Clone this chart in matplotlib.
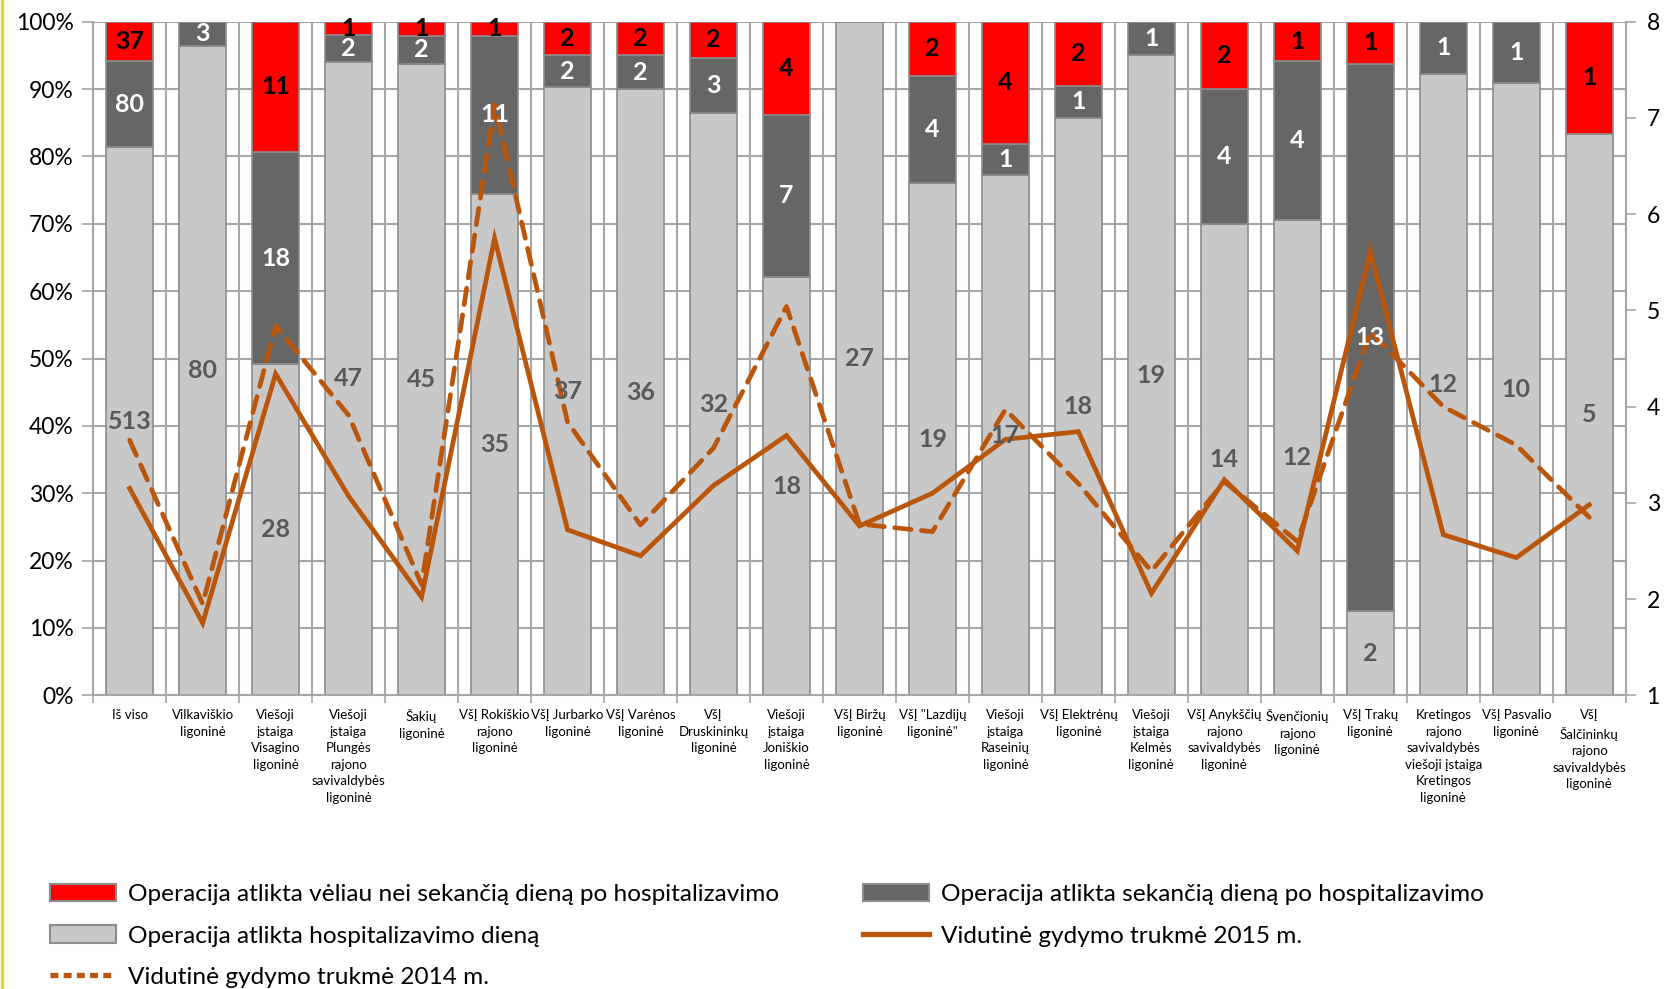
import numpy as np
import matplotlib as mpl
mpl.use('Agg')
import matplotlib.pyplot as plt
from matplotlib.patches import Patch
from matplotlib.lines import Line2D
from matplotlib import font_manager as fm

# categories (hospitals)
categories = [
    'Iš viso',
    'Vilkaviškio\nligoninė',
    'Viešoji\nįstaiga\nVisagino\nligoninė',
    'Viešoji\nįstaiga\nPlungės\nrajono\nsavivaldybės\nligoninė',
    'Šakių\nligoninė',
    'VšĮ Rokiškio\nrajono\nligoninė',
    'VšĮ Jurbarko\nligoninė',
    'VšĮ Varėnos\nligoninė',
    'VšĮ\nDruskininkų\nligoninė',
    'Viešoji\nįstaiga\nJoniškio\nligoninė',
    'VšĮ Biržų\nligoninė',
    'VšĮ "Lazdijų\nligoninė"',
    'Viešoji\nįstaiga\nRaseinių\nligoninė',
    'VšĮ Elektrėnų\nligoninė',
    'Viešoji\nįstaiga\nKelmės\nligoninė',
    'VšĮ Anykščių\nrajono\nsavivaldybės\nligoninė',
    'Švenčionių\nrajono\nligoninė',
    'VšĮ Trakų\nligoninė',
    'Kretingos\nrajono\nsavivaldybės\nviešoji įstaiga\nKretingos\nligoninė',
    'VšĮ Pasvalio\nligoninė',
    'VšĮ\nŠalčininkų\nrajono\nsavivaldybės\nligoninė',
]

# number of operations
same_day = [513, 80, 28, 47, 45, 35, 37, 36, 32, 18, 27, 19, 17, 18, 19, 14, 12, 2, 12, 10, 5]
next_day = [80, 3, 18, 2, 2, 11, 2, 2, 3, 7, 0, 4, 1, 1, 1, 4, 4, 13, 1, 1, 0]
later = [37, 0, 11, 1, 1, 1, 2, 2, 2, 4, 0, 2, 4, 2, 0, 2, 1, 1, 0, 0, 1]

# average treatment duration (days)
dur_2015 = [3.15, 1.75, 4.34, 3.07, 2.02, 5.75, 2.72, 2.45, 3.18, 3.70, 2.76,
            3.10, 3.66, 3.74, 2.06, 3.24, 2.50, 5.61, 2.67, 2.43, 2.98]
dur_2014 = [3.65, 1.95, 4.84, 3.91, 2.15, 7.14, 3.84, 2.77, 3.57, 5.04, 2.78,
            2.70, 3.97, 3.20, 2.29, 3.22, 2.60, 4.78, 4.00, 3.60, 2.85]

legend_labels = [
    'Operacija atlikta vėliau nei sekančią dieną po hospitalizavimo',
    'Operacija atlikta sekančią dieną po hospitalizavimo',
    'Operacija atlikta hospitalizavimo dieną',
    'Vidutinė gydymo trukmė 2015 m.',
    'Vidutinė gydymo trukmė 2014 m.',
]

installed = set(f.name for f in fm.fontManager.ttflist)
main_font = 'Lato' if 'Lato' in installed else 'DejaVu Sans'
narrow_font = 'Liberation Sans Narrow' if 'Liberation Sans Narrow' in installed else main_font
plt.rcParams['font.family'] = [main_font, 'DejaVu Sans']

LIGHT = '#C8C8C8'
DARK = '#666666'
RED = '#FF0000'
EDGE = '#8C8C8C'
GRID = '#A6A6A6'
LINE = '#B9560B'

s = np.array(same_day, dtype=float)
n = np.array(next_day, dtype=float)
l = np.array(later, dtype=float)
tot = s + n + l
ps, pn, pl = s / tot * 100, n / tot * 100, l / tot * 100

x = np.arange(len(categories))

fig = plt.figure(figsize=(16.64, 9.89), dpi=100)
ax = fig.add_axes([0.056, 0.297, 0.921, 0.681])

w = 0.64
ax.bar(x, ps, w, color=LIGHT, edgecolor=EDGE, linewidth=1.2, zorder=2)
ax.bar(x, pn, w, bottom=ps, color=DARK, edgecolor=EDGE, linewidth=1.2, zorder=2)
ax.bar(x, pl, w, bottom=ps + pn, color=RED, edgecolor=EDGE, linewidth=1.2, zorder=2)

ax.set_xlim(-0.5, len(categories) - 0.5)
ax.set_ylim(0, 100)
ax.set_yticks(np.arange(0, 101, 10))
ax.set_yticklabels([f'{v}%' for v in range(0, 101, 10)], fontsize=16.5)
ax.set_xticks(np.arange(-0.5, len(categories), 1))
ax.set_xticklabels([])
ax.set_xticks(x, minor=True)
ax.set_xticklabels(categories, minor=True, fontsize=9.5, family=[narrow_font, 'DejaVu Sans'],
                   linespacing=1.45, va='top')
ax.tick_params(axis='x', which='minor', length=0, pad=10)
ax.tick_params(axis='x', which='major', length=6, color=GRID, width=1.2)
ax.tick_params(axis='y', length=8, color=GRID, width=1.2, pad=6)
ax.grid(True, which='major', color=GRID, linewidth=1.5, zorder=0)
ax.set_axisbelow(True)
for sp in ['top', 'right']:
    ax.spines[sp].set_visible(False)
ax.spines['left'].set_color(GRID)
ax.spines['bottom'].set_color(GRID)
ax.spines['left'].set_linewidth(1.5)
ax.spines['bottom'].set_linewidth(1.5)

ax2 = ax.twinx()
ax2.plot(x, dur_2015, color=LINE, linewidth=3.4, solid_joinstyle='miter', zorder=5)
ax2.plot(x, dur_2014, color=LINE, linewidth=3.4, linestyle=(0, (3.5, 2.2)),
         dash_capstyle='round', zorder=5)
ax2.set_ylim(1, 8)
ax2.set_yticks(range(1, 9))
ax2.tick_params(axis='y', length=7, color=GRID, width=1.2, pad=8, labelsize=16.5)
for sp in ['top', 'left', 'bottom']:
    ax2.spines[sp].set_visible(False)
ax2.spines['right'].set_color(GRID)
ax2.spines['right'].set_linewidth(1.5)
ax.set_zorder(1)
ax2.set_zorder(2)
ax2.patch.set_visible(False)

# data labels, drawn on top of the lines
lab = dict(ha='center', va='center', fontsize=18, fontweight='bold',
           transform=ax.transData, zorder=10)
for i in range(len(categories)):
    if s[i] > 0:
        ax2.text(x[i], ps[i] / 2, f'{same_day[i]}', color='#595959', **lab)
    if n[i] > 0:
        ax2.text(x[i], ps[i] + pn[i] / 2, f'{next_day[i]}', color='white', **lab)
    if l[i] > 0:
        ax2.text(x[i], ps[i] + pn[i] + pl[i] / 2, f'{later[i]}', color='black', **lab)

handles = [
    Patch(facecolor=RED, edgecolor=EDGE, linewidth=1.5),
    Patch(facecolor=LIGHT, edgecolor=EDGE, linewidth=1.5),
    Line2D([], [], color=LINE, linewidth=3.8, linestyle=(0, (1.5, 1.0))),
    Patch(facecolor=DARK, edgecolor=EDGE, linewidth=1.5),
    Line2D([], [], color=LINE, linewidth=3.8),
]
labels = [legend_labels[0], legend_labels[2], legend_labels[4], legend_labels[1], legend_labels[3]]
fig.legend(handles, labels, ncol=2, loc='upper left', bbox_to_anchor=(0.0228, 0.119),
           frameon=False, fontsize=17.6, handlelength=2.7, handleheight=0.75,
           handletextpad=0.5, columnspacing=3.4, labelspacing=0.82, borderpad=0)

fig.add_artist(Line2D([0.0015, 0.0015], [0, 1], color='#D4DE3A', linewidth=2.5,
                      transform=fig.transFigure))

fig.savefig('out.png', dpi=100)
